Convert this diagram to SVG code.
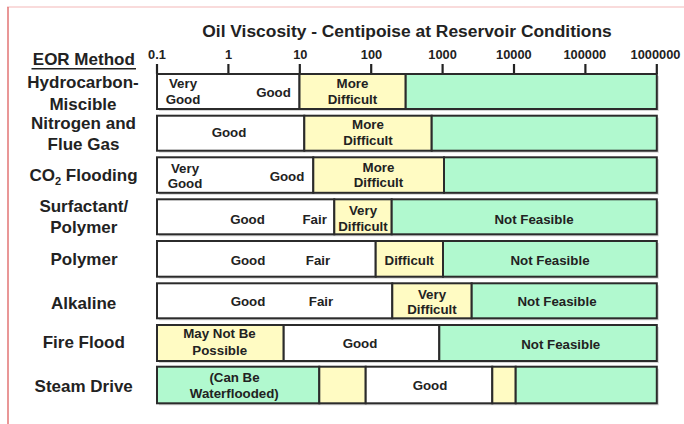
<svg xmlns="http://www.w3.org/2000/svg" width="684" height="424" viewBox="0 0 684 424">
<style>
text{font-family:"Liberation Sans",Arial,sans-serif;font-weight:bold;fill:#222;text-anchor:middle}
.lbl{font-size:17px}
.ttl{font-size:17.4px}
.tk{font-size:12.8px}
.in{font-size:13.3px}
.seg{stroke:#2b2b2b;stroke-width:2}
.w{fill:#ffffff}
.y{fill:#fffbc3}
.g{fill:#b1f9cf}
.sh{fill:#d4d4d4}
.tick{stroke:#222;stroke-width:2.2}
</style>
<rect x="0" y="0" width="684" height="424" fill="#ffffff"/>
<line x1="7" y1="7" x2="684" y2="7" stroke="#f4b8b8" stroke-width="1.2"/>
<line x1="8" y1="7" x2="8" y2="424" stroke="#e27474" stroke-width="1.5"/>

<g id="title">
<text class="ttl" x="407" y="37.3">Oil Viscosity - Centipoise at Reservoir Conditions</text>
</g>
<g id="header">
<text class="lbl" x="83.8" y="65">EOR Method</text>
<line x1="31.5" y1="68.8" x2="136" y2="68.8" stroke="#222" stroke-width="1.5"/>
</g>
<g id="axis">
<line class="tick" x1="157" y1="74" x2="656.8" y2="74"/>
<line class="tick" x1="157" y1="64" x2="157" y2="74"/>
<line class="tick" x1="228.4" y1="64" x2="228.4" y2="74"/>
<line class="tick" x1="299.8" y1="64" x2="299.8" y2="74"/>
<line class="tick" x1="371.2" y1="64" x2="371.2" y2="74"/>
<line class="tick" x1="442.6" y1="64" x2="442.6" y2="74"/>
<line class="tick" x1="514" y1="64" x2="514" y2="74"/>
<line class="tick" x1="585.4" y1="64" x2="585.4" y2="74"/>
<line class="tick" x1="656.8" y1="64" x2="656.8" y2="74"/>
<text class="tk" x="157" y="59.3">0.1</text>
<text class="tk" x="228.6" y="59.3">1</text>
<text class="tk" x="300.3" y="59.3">10</text>
<text class="tk" x="371.5" y="59.3">100</text>
<text class="tk" x="442.6" y="59.3">1000</text>
<text class="tk" x="513.9" y="59.3">10000</text>
<text class="tk" x="584.8" y="59.3">100000</text>
<text class="tk" x="655.5" y="59.3">1000000</text>
</g>

<g id="row-hydrocarbon">
<rect class="sh" x="159" y="76" width="499.8" height="35"/>
<rect class="seg w" x="157" y="74" width="142.5" height="35"/>
<rect class="seg y" x="299.5" y="74" width="106.2" height="35"/>
<rect class="seg g" x="405.7" y="74" width="251.1" height="35"/>
<text class="lbl" x="83" y="87.7">Hydrocarbon-</text>
<text class="lbl" x="83" y="109.8">Miscible</text>
<text class="in" x="183" y="88">Very</text>
<text class="in" x="183" y="104">Good</text>
<text class="in" x="273.5" y="96.7">Good</text>
<text class="in" x="352.5" y="88">More</text>
<text class="in" x="352.5" y="104">Difficult</text>
</g>

<g id="row-nitrogen">
<rect class="sh" x="159" y="117.7" width="499.8" height="35"/>
<rect class="seg w" x="157" y="115.7" width="147.3" height="35"/>
<rect class="seg y" x="304.3" y="115.7" width="127.4" height="35"/>
<rect class="seg g" x="431.7" y="115.7" width="225.1" height="35"/>
<text class="lbl" x="83.5" y="129">Nitrogen and</text>
<text class="lbl" x="83.5" y="150.3">Flue Gas</text>
<text class="in" x="229" y="137">Good</text>
<text class="in" x="368" y="128.5">More</text>
<text class="in" x="368" y="145">Difficult</text>
</g>

<g id="row-co2">
<rect class="sh" x="159" y="159.3" width="499.8" height="35.5"/>
<rect class="seg w" x="157" y="157.3" width="156.3" height="35.5"/>
<rect class="seg y" x="313.3" y="157.3" width="130.7" height="35.5"/>
<rect class="seg g" x="444" y="157.3" width="212.8" height="35.5"/>
<text class="lbl" x="83.5" y="181">CO<tspan font-size="11px" dy="4">2</tspan><tspan dy="-4"> Flooding</tspan></text>
<text class="in" x="185" y="172.5">Very</text>
<text class="in" x="185" y="188">Good</text>
<text class="in" x="287" y="181">Good</text>
<text class="in" x="378.5" y="171.8">More</text>
<text class="in" x="378.5" y="187.2">Difficult</text>
</g>

<g id="row-surfactant">
<rect class="sh" x="159" y="201.3" width="499.8" height="35"/>
<rect class="seg w" x="157" y="199.3" width="177.3" height="35"/>
<rect class="seg y" x="334.3" y="199.3" width="57.4" height="35"/>
<rect class="seg g" x="391.7" y="199.3" width="265.1" height="35"/>
<text class="lbl" x="83.8" y="211.7">Surfactant/</text>
<text class="lbl" x="83.8" y="233.3">Polymer</text>
<text class="in" x="247.5" y="223.5">Good</text>
<text class="in" x="314.7" y="223.5">Fair</text>
<text class="in" x="363" y="215">Very</text>
<text class="in" x="363" y="230.5">Difficult</text>
<text class="in" x="534" y="224.3">Not Feasible</text>
</g>

<g id="row-polymer">
<rect class="sh" x="159" y="243" width="499.8" height="35.7"/>
<rect class="seg w" x="157" y="241" width="218.7" height="35.7"/>
<rect class="seg y" x="375.7" y="241" width="67.3" height="35.7"/>
<rect class="seg g" x="443" y="241" width="213.8" height="35.7"/>
<text class="lbl" x="84" y="265">Polymer</text>
<text class="in" x="248" y="264.5">Good</text>
<text class="in" x="318" y="264.5">Fair</text>
<text class="in" x="409.3" y="265">Difficult</text>
<text class="in" x="550" y="265">Not Feasible</text>
</g>

<g id="row-alkaline">
<rect class="sh" x="159" y="285.3" width="499.8" height="35"/>
<rect class="seg w" x="157" y="283.3" width="235.3" height="35"/>
<rect class="seg y" x="392.3" y="283.3" width="79.4" height="35"/>
<rect class="seg g" x="471.7" y="283.3" width="185.1" height="35"/>
<text class="lbl" x="83.7" y="309">Alkaline</text>
<text class="in" x="248" y="306">Good</text>
<text class="in" x="321" y="306">Fair</text>
<text class="in" x="432" y="298.5">Very</text>
<text class="in" x="432" y="314">Difficult</text>
<text class="in" x="557" y="306">Not Feasible</text>
</g>

<g id="row-fireflood">
<rect class="sh" x="159" y="327" width="499.8" height="36"/>
<rect class="seg y" x="157" y="325" width="126.7" height="36"/>
<rect class="seg w" x="283.7" y="325" width="155.6" height="36"/>
<rect class="seg g" x="439.3" y="325" width="217.5" height="36"/>
<text class="lbl" x="83.8" y="347.7">Fire Flood</text>
<text class="in" x="219.5" y="338.3">May Not Be</text>
<text class="in" x="219.7" y="355">Possible</text>
<text class="in" x="360" y="348.3">Good</text>
<text class="in" x="560.7" y="349.3">Not Feasible</text>
</g>

<g id="row-steam">
<rect class="sh" x="159" y="368.7" width="499.8" height="36.6"/>
<rect class="seg g" x="157" y="366.7" width="162.3" height="36.6"/>
<rect class="seg y" x="319.3" y="366.7" width="46.4" height="36.6"/>
<rect class="seg w" x="365.7" y="366.7" width="126.6" height="36.6"/>
<rect class="seg y" x="492.3" y="366.7" width="23.4" height="36.6"/>
<rect class="seg g" x="515.7" y="366.7" width="141.1" height="36.6"/>
<text class="lbl" x="83.7" y="391.7">Steam Drive</text>
<text class="in" x="234.5" y="381.7">(Can Be</text>
<text class="in" x="234.3" y="398.3">Waterflooded)</text>
<text class="in" x="430" y="390">Good</text>
</g>
</svg>
